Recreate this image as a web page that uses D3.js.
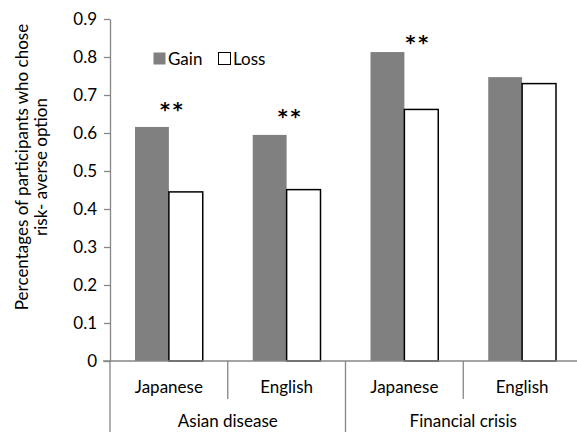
<!DOCTYPE html>
<html>
<head>
<meta charset="utf-8">
<script src="https://cdn.jsdelivr.net/npm/d3@7"></script>
<style>
  body { margin: 0; background: #fff; }
  text { font-family: Lato, "Open Sans", sans-serif; fill: #000; }
</style>
</head>
<body>
<svg width="577" height="432"></svg>
<script>
var WIDTH = 577;
var HEIGHT = 432;

// data
var scenarios = ['Asian disease', 'Financial crisis'];
var languages = ['Japanese', 'English'];
var series = ['Gain', 'Loss'];
var gainValues = [0.616, 0.595, 0.813, 0.747];
var lossValues = [0.445, 0.451, 0.662, 0.730];
var yTicks = [0, 0.1, 0.2, 0.3, 0.4, 0.5, 0.6, 0.7, 0.8, 0.9];
var stars = [ // which group, height of the marks
    { group: 0, label: '**', y: 0.68, dx: 4 },
    { group: 1, label: '**', y: 0.66, dx: 4 },
    { group: 2, label: '**', y: 0.855, dx: 14 }
];

var margin = { left: 110, top: 19, right: -4, bottom: 71 };
var plotW = WIDTH - margin.left - margin.right;
var plotH = HEIGHT - margin.top - margin.bottom;

var groups = [];
scenarios.forEach(function(s, i) {
    languages.forEach(function(l, j) {
        groups.push({ scenario: s, language: l, idx: i * 2 + j });
    });
});

var svg = d3.select('svg');
var g = svg.append('g')
    .attr('transform', 'translate(' + margin.left + ',' + margin.top + ')');

var x0 = d3.scaleBand()
    .domain(groups.map(function(d) { return d.idx; }))
    .range([0, plotW])
    .paddingInner(0)
    .paddingOuter(0);

var x1 = d3.scaleBand()
    .domain(series)
    .range([25, x0.bandwidth() - 25]);

var y = d3.scaleLinear().domain([0, 0.9]).range([plotH, 0]);

var colors = { Gain: '#808080', Loss: '#ffffff' };

// y axis
var yAxis = g.append('g')
    .call(d3.axisLeft(y).tickValues(yTicks).tickFormat(function(d) { return d === 0 ? '0' : d3.format('.1f')(d); }).tickSize(6).tickSizeOuter(0));
yAxis.select('.domain').attr('stroke', '#868686').attr('stroke-width', 1.3);
yAxis.selectAll('.tick line').attr('stroke', '#868686').attr('stroke-width', 1.3);
yAxis.selectAll('.tick text').attr('x', -13).style('font-size', '17px');

// bars
var bars = [];
groups.forEach(function(gr) {
    bars.push({ group: gr.idx, s: 'Gain', v: gainValues[gr.idx] });
    bars.push({ group: gr.idx, s: 'Loss', v: lossValues[gr.idx] });
});

g.selectAll('rect.bar')
    .data(bars)
    .enter()
    .append('rect')
    .attr('class', 'bar')
    .attr('x', function(d) { return x0(d.group) + x1(d.s); })
    .attr('width', x1.bandwidth())
    .attr('y', function(d) { return y(d.v); })
    .attr('height', function(d) { return plotH - y(d.v); })
    .attr('fill', function(d) { return colors[d.s]; })
    .attr('stroke', function(d) { return d.s === 'Loss' ? '#000' : 'none'; })
    .attr('stroke-width', 1.5);

// x axis line
g.append('line')
    .attr('x1', -7).attr('x2', plotW)
    .attr('y1', plotH).attr('y2', plotH)
    .attr('stroke', '#868686').attr('stroke-width', 1.3);

// separators below the axis
groups.forEach(function(gr) {
    var outer = gr.idx % 2 === 0;
    g.append('line')
        .attr('x1', x0(gr.idx)).attr('x2', x0(gr.idx))
        .attr('y1', plotH).attr('y2', outer ? HEIGHT - margin.top : plotH + 38)
        .attr('stroke', '#868686').attr('stroke-width', 1.3);
});

// language labels
g.selectAll('text.lang')
    .data(groups)
    .enter()
    .append('text')
    .attr('class', 'lang')
    .attr('x', function(d) { return x0(d.idx) + x0.bandwidth() / 2; })
    .attr('y', plotH + 32)
    .attr('text-anchor', 'middle')
    .style('font-size', '17px')
    .text(function(d) { return d.language; });

// scenario labels
g.selectAll('text.scen')
    .data(scenarios)
    .enter()
    .append('text')
    .attr('class', 'scen')
    .attr('x', function(d, i) { return x0(i * 2) + x0.bandwidth(); })
    .attr('y', plotH + 66)
    .attr('text-anchor', 'middle')
    .style('font-size', '17px')
    .text(function(d) { return d; });

// significance marks
g.selectAll('text.star')
    .data(stars)
    .enter()
    .append('text')
    .attr('class', 'star')
    .attr('x', function(d) { return x0(d.group) + x0.bandwidth() / 2 + d.dx; })
    .attr('y', function(d) { return y(d.y) + 13; })
    .attr('text-anchor', 'middle')
    .style('font-family', '"DejaVu Sans", sans-serif')
    .style('font-size', '19px')
    .style('font-weight', 'bold')
    .style('letter-spacing', '3px')
    .text(function(d) { return d.label; });

// legend
var legend = svg.append('g').attr('transform', 'translate(153,52)');
series.forEach(function(s, i) {
    var lx = i * 65;
    legend.append('rect')
        .attr('x', lx + 0.5).attr('y', 0.5)
        .attr('width', 12).attr('height', 12)
        .attr('fill', colors[s])
        .attr('stroke', s === 'Loss' ? '#000' : 'none');
    legend.append('text')
        .attr('x', lx + 15).attr('y', 13)
        .style('font-size', '17px')
        .text(s);
});

// y axis title
svg.append('text')
    .attr('transform', 'translate(28,167) rotate(-90)')
    .attr('text-anchor', 'middle')
    .style('font-size', '17px')
    .selectAll('tspan')
    .data(['Percentages of participants who chose', 'risk- averse option'])
    .enter()
    .append('tspan')
    .attr('x', 0)
    .attr('dy', function(d, i) { return i === 0 ? 0 : 19; })
    .text(function(d) { return d; });
</script>
</body>
</html>
